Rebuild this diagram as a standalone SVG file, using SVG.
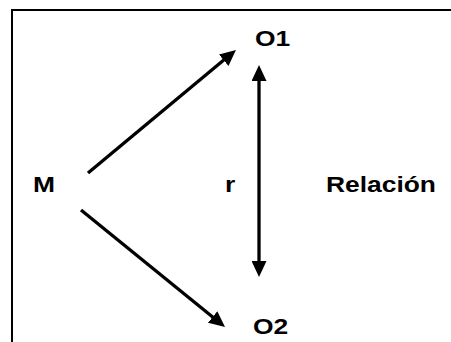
<svg xmlns="http://www.w3.org/2000/svg" width="451" height="342" viewBox="0 0 451 342">
<style>
.lbl{font-family:"Liberation Sans",Arial,sans-serif;font-weight:bold;font-size:22px;fill:#000}
.conn{stroke:#000;stroke-width:3.3;fill:none}
</style>
<defs>
<marker id="ah" viewBox="0 0 16 15" refX="8" refY="7.5" markerWidth="16" markerHeight="15" markerUnits="userSpaceOnUse" orient="auto-start-reverse">
<path d="M0,0 L16,7.5 L0,15 z" fill="#000"/>
</marker>
</defs>
<rect width="451" height="342" fill="#fff"/>
<path d="M12,343 V10 H452" fill="none" stroke="#000" stroke-width="2"/>
<g id="connectors">
<line class="conn" x1="88" y1="173" x2="229.8" y2="55.1" marker-end="url(#ah)"/>
<line class="conn" x1="81" y1="210" x2="218.8" y2="322" marker-end="url(#ah)"/>
<line class="conn" x1="259" y1="73" x2="259" y2="269" marker-start="url(#ah)" marker-end="url(#ah)"/>
</g>
<g id="node-M"><text class="lbl" transform="translate(33,192) scale(1.2,1)">M</text></g>
<g id="node-O1"><text class="lbl" transform="translate(255,46) scale(1.2,1)">O1</text></g>
<g id="node-O2"><text class="lbl" transform="translate(253,334) scale(1.2,1)">O2</text></g>
<g id="label-r"><text class="lbl" transform="translate(225,192) scale(1.2,1)">r</text></g>
<g id="label-relacion"><text class="lbl" transform="translate(326,192) scale(1.2,1)">Relación</text></g>
</svg>
